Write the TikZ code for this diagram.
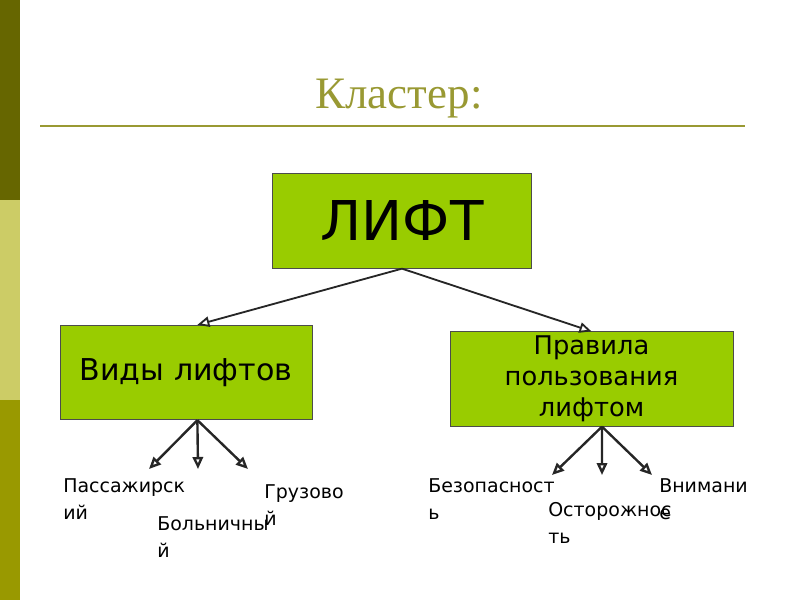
\documentclass[tikz,border=0pt]{standalone}
\usepackage{fontspec}
\setmainfont{DejaVu Sans}
\newfontfamily\fuentetitulo{Liberation Serif}
\usetikzlibrary{arrows.meta,calc}
\definecolor{OlivaOscuro}{RGB}{102,102,0}
\definecolor{OlivaClaro}{RGB}{204,204,102}
\definecolor{OlivaMedio}{RGB}{153,153,0}
\definecolor{OlivaTitulo}{RGB}{153,153,51}
\definecolor{VerdeLima}{RGB}{153,204,0}
\tikzset{
  cajabox/.style={draw=black!70, line width=0.6pt, fill=VerdeLima,
    align=center, minimum width=#1, minimum height=2.36cm, inner sep=3pt},
  cajabox/.default=6.3cm,
  ramaarr/.style={-{Triangle[open, length=3mm, width=2.6mm]}, line width=1.3pt, black!85},
  hojaarr/.style={-{Triangle[open, length=3mm, width=2.6mm]}, line width=1.7pt, black!85},
  % ---- etiquetas de las hojas del cluster ----
  hojatext/.style={anchor=base west, align=left, inner sep=0pt,
    font=\fontsize{13.5}{18.5}\selectfont},
}

\begin{document}
\begin{tikzpicture}[x=0.025cm, y=-0.025cm]
    \useasboundingbox (0,0) rectangle (800,600);
    \fill[OlivaOscuro] (0,0) rectangle (20,200);
    \fill[OlivaClaro] (0,200) rectangle (20,400);
    \fill[OlivaMedio] (0,400) rectangle (20,600);

    \node[anchor=base, text=OlivaTitulo, font=\fuentetitulo\fontsize{32}{36}\selectfont]
      (titulo) at (399,108) {Кластер:};
    \draw[OlivaTitulo, line width=1.4pt] (40,126) -- (745,126);

    \node[cajabox=6.475cm, font=\fontsize{39}{44}\selectfont] (lift) at (402,221) {ЛИФТ};
    \node[cajabox=6.3cm, font=\fontsize{21.4}{26}\selectfont] (vidos) at (186,372.5) {Виды лифтов};
    \node[cajabox=7.075cm, font=\fontsize{18.3}{22}\selectfont] (reglas) at (591.5,379)
      {Правила\\ пользования\\ лифтом};
    \draw[ramaarr] (lift.south) -- ($(vidos.north west)!0.545!(vidos.north east)$);
    \draw[ramaarr] (lift.south) -- (reglas.north);

    \coordinate (v0) at ($(vidos.south west)!0.545!(vidos.south east)$);
    \coordinate (v1) at (149,469);
    \coordinate (v2) at (198,469);
    \coordinate (v3) at (248,469);
    \foreach \k in {1,2,3} \draw[hojaarr] (v0) -- (v\k);

    \coordinate (r0) at ($(reglas.south west)!0.537!(reglas.south east)$);
    \coordinate (r1) at (552,475);
    \coordinate (r2) at (602,475);
    \coordinate (r3) at (652,475);
    \foreach \k in {1,2,3} \draw[hojaarr] (r0) -- (r\k);

    \node[hojatext] (pasaj) at (63,519) {Пассажирск\\ий};
    \node[hojatext] (bolni) at (157,557) {Больничны\\й};
    \node[hojatext] (gruz) at (264,525) {Грузово\\й};
    \node[hojatext] (bezop) at (428,519) {Безопасност\\ь};
    \node[hojatext] (ostor) at (548,543) {Осторожнос\\ть};
    \node[hojatext] (vnim) at (659,519) {Внимани\\е};
\end{tikzpicture}
\end{document}
